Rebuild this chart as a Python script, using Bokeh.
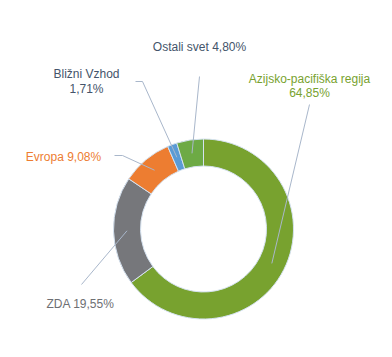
import math
from bokeh.plotting import figure
from bokeh.models import Range1d, ColumnDataSource
from bokeh.core.properties import value
from bokeh.embed import file_html
from bokeh.resources import INLINE

# Data
categories = ["Azijsko-pacifiška regija", "ZDA", "Evropa", "Bližni Vzhod", "Ostali svet"]
values = [64.85, 19.55, 9.08, 1.71, 4.80]
value_labels = ["64,85%", "19,55%", "9,08%", "1,71%", "4,80%"]

colors = ["#78A22F", "#76777B", "#ED7D31", "#5B9BD5", "#6DAA45"]
text_colors = ["#78A22F", "#6E6F73", "#ED7D31", "#44546A", "#44546A"]

W, H = 392, 357
def sy(y):
    return H - y

cx, cy = 203, sy(228.5)
r_out, r_in = 90, 63
r_mid = (r_out + r_in) / 2

total = sum(values)
starts, ends, mids = [], [], []
cum = 0.0
for v in values:
    a0 = cum / total
    cum += v
    a1 = cum / total
    starts.append(math.pi / 2 - 2 * math.pi * a1)
    ends.append(math.pi / 2 - 2 * math.pi * a0)
    mids.append(math.pi / 2 - 2 * math.pi * (a0 + a1) / 2)

p = figure(width=376, height=341, output_backend="svg", toolbar_location=None,
           x_range=Range1d(0, 376), y_range=Range1d(sy(341), sy(0)),
           min_border=0)
p.axis.visible = False
p.grid.visible = False
p.outline_line_color = None
p.background_fill_color = "white"

src = ColumnDataSource(dict(start=starts, end=ends, color=colors))
p.annular_wedge(x=cx, y=cy, inner_radius=r_in, outer_radius=r_out,
                start_angle="start", end_angle="end", color="color",
                line_color="#D5E2F0", line_width=1, source=src)

# label layout (text lines, anchor positions in screen px)
label_layout = [
    dict(lines=["Azijsko-pacifiška regija", "64,85%"], x=309, y=[78, 92], pt=(309, 104), knee=None),
    dict(lines=["ZDA 19,55%"], x=80, y=[303], pt=(81, 284), knee=None),
    dict(lines=["Evropa 9,08%"], x=63, y=[156], pt=(114, 155), knee=(122, 155)),
    dict(lines=["Bližni Vzhod", "1,71%"], x=86, y=[73, 88], pt=(135, 81), knee=(142, 81)),
    dict(lines=["Ostali svet 4,80%"], x=199, y=[46], pt=(199, 76), knee=None),
]

for i, lay in enumerate(label_layout):
    ix = cx + r_mid * math.cos(mids[i])
    iy = cy + r_mid * math.sin(mids[i])
    xs = [lay["pt"][0]]
    ys = [sy(lay["pt"][1])]
    if lay["knee"]:
        xs.append(lay["knee"][0])
        ys.append(sy(lay["knee"][1]))
    xs.append(ix)
    ys.append(iy)
    p.line(xs, ys, line_color="#A9B7CB", line_width=1)
    for j, t in enumerate(lay["lines"]):
        p.text(x=[lay["x"]], y=[sy(lay["y"][j])], text=[t],
               text_font=value("Liberation Sans"), text_font_size="12px",
               text_color=text_colors[i], text_align="center",
               text_baseline="middle")

open("out.html", "w").write(file_html(p, INLINE))
